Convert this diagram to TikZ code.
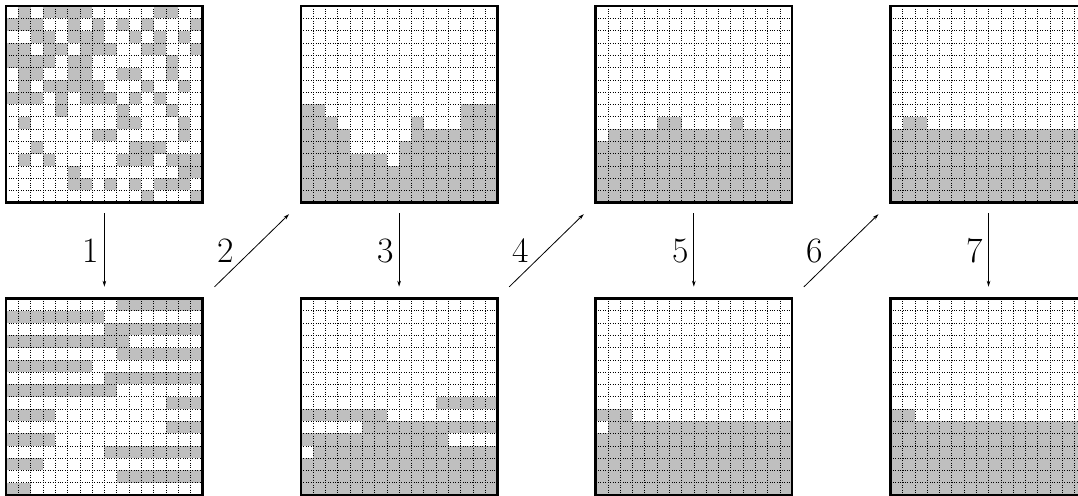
\documentclass[tikz,border=0pt]{standalone}
\usetikzlibrary{arrows.meta}
\tikzset{
  cellfill/.style={fill=black!25},
  gridline/.style={dotted, line width=0.45pt, black},
  gridbox/.style={draw, line width=2.6pt, inner sep=0pt, outer sep=0pt,
    minimum width=196.48pt, minimum height=196.48pt},
  conn/.style={line width=0.8pt, -{Stealth[length=6pt,width=3.6pt]}},
  lbl/.style={font=\fontsize{35.7pt}{40pt}\selectfont, inner sep=0pt}
}
\newcommand{\gridcells}[3]{%
  \begin{scope}[shift={(#1,#2)}, yscale=-1]
    \foreach \c/\r/\w in {#3} {\fill[cellfill] (\c,\r) rectangle ++(\w,1);}
    \draw[gridline, step=1] (0,0) grid (16,16);
  \end{scope}}
\begin{document}
\begin{tikzpicture}[x=12.28pt, y=12.28pt]
\useasboundingbox (0,0) rectangle (87.785,-40.39);
\clip (0,0) rectangle (87.785,-40.39);
% grid 1
\gridcells{0.5}{-0.5}{1/0/1,3/0/4,12/0/2,
 0/1/3,5/1/1,7/1/1,9/1/1,11/1/1,15/1/1,
 2/2/2,5/2/3,10/2/1,12/2/1,14/2/1,
 0/3/2,3/3/2,6/3/3,11/3/2,15/3/1,
 0/4/4,5/4/2,13/4/1,
 1/5/2,5/5/2,9/5/2,13/5/1,
 1/6/1,3/6/5,11/6/1,14/6/1,
 0/7/3,4/7/1,6/7/3,10/7/1,12/7/1,
 4/8/1,9/8/1,13/8/1,
 1/9/1,9/9/2,14/9/1,
 7/10/2,14/10/1,
 2/11/1,10/11/3,
 1/12/1,3/12/1,9/12/3,13/12/3,
 5/13/1,14/13/2,
 5/14/2,8/14/1,10/14/1,12/14/3,
 11/15/1,15/15/1}
% grid 2
\gridcells{0.5}{-24.3}{9/0/7,0/1/8,8/2/8,0/3/10,9/4/7,0/5/7,8/6/8,0/7/9,
 13/8/3,0/9/4,13/10/3,0/11/4,8/12/8,0/13/3,9/14/7,0/15/2}
% grid 3
\gridcells{24.5}{-0.5}{0/8/2,13/8/3,0/9/3,9/9/1,13/9/3,0/10/4,9/10/7,
 0/11/4,8/11/8,0/12/7,8/12/8,0/13/16,0/14/16,0/15/16}
% grid 4
\gridcells{24.5}{-24.3}{11/8/5,0/9/7,5/10/11,0/11/12,1/12/15,0/13/16,0/14/16,0/15/16}
% grid 5
\gridcells{48.5}{-0.5}{5/9/2,11/9/1,1/10/15,0/11/16,0/12/16,0/13/16,0/14/16,0/15/16}
% grid 6
\gridcells{48.5}{-24.3}{0/9/3,1/10/15,0/11/16,0/12/16,0/13/16,0/14/16,0/15/16}
% grid 7
\gridcells{72.5}{-0.5}{1/9/2,0/10/16,0/11/16,0/12/16,0/13/16,0/14/16,0/15/16}
% grid 8
\gridcells{72.5}{-24.3}{0/9/2,0/10/16,0/11/16,0/12/16,0/13/16,0/14/16,0/15/16}
% frames
\node[gridbox] (g1) at (8.5,-8.5) {};
\node[gridbox] (g2) at (8.5,-32.3) {};
\node[gridbox] (g3) at (32.5,-8.5) {};
\node[gridbox] (g4) at (32.5,-32.3) {};
\node[gridbox] (g5) at (56.5,-8.5) {};
\node[gridbox] (g6) at (56.5,-32.3) {};
\node[gridbox] (g7) at (80.5,-8.5) {};
\node[gridbox] (g8) at (80.5,-32.3) {};
% arrows
\draw[conn, shorten <=10.7pt, shorten >=11.7pt] (g1.south) -- node[lbl, midway, left=5pt] {1} (g2.north);
\draw[conn, shorten <=16.5pt, shorten >=16.5pt] (g2.north east) -- node[lbl, midway, left=17.6pt] {2} (g3.south west);
\draw[conn, shorten <=10.7pt, shorten >=11.7pt] (g3.south) -- node[lbl, midway, left=5pt] {3} (g4.north);
\draw[conn, shorten <=16.5pt, shorten >=16.5pt] (g4.north east) -- node[lbl, midway, left=17.6pt] {4} (g5.south west);
\draw[conn, shorten <=10.7pt, shorten >=11.7pt] (g5.south) -- node[lbl, midway, left=5pt] {5} (g6.north);
\draw[conn, shorten <=16.5pt, shorten >=16.5pt] (g6.north east) -- node[lbl, midway, left=17.6pt] {6} (g7.south west);
\draw[conn, shorten <=10.7pt, shorten >=11.7pt] (g7.south) -- node[lbl, midway, left=5pt] {7} (g8.north);
\end{tikzpicture}
\end{document}
